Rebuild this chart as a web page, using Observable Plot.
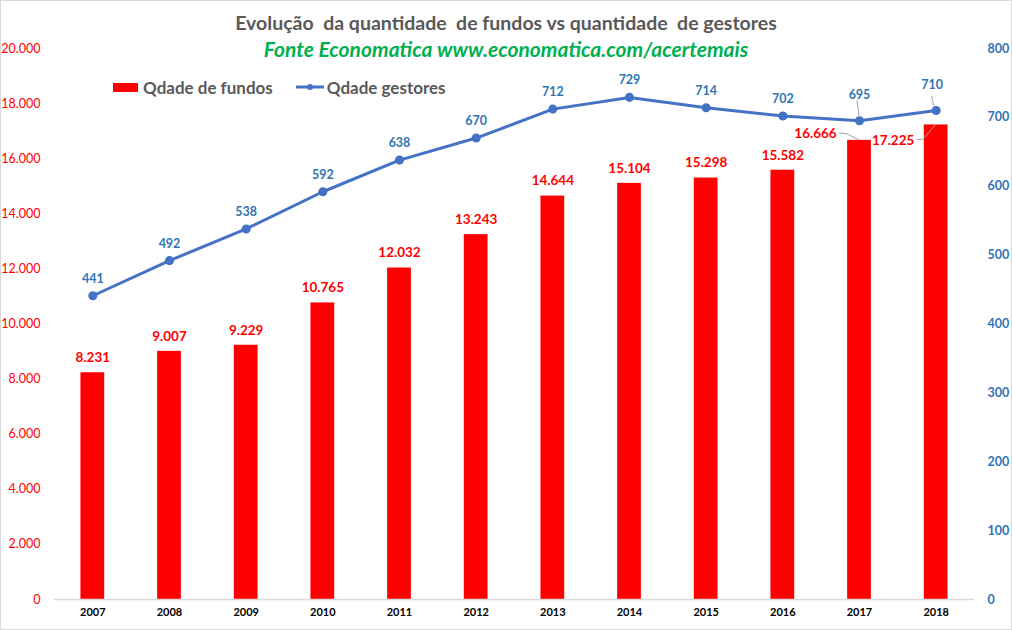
<!DOCTYPE html>
<html><head><meta charset="utf-8">
<script src="https://cdn.jsdelivr.net/npm/d3@7"></script>
<script src="https://cdn.jsdelivr.net/npm/@observablehq/plot@0.6"></script>
<style>
html,body{margin:0;padding:0;background:#fff;}
#wrap{position:relative;width:1012px;height:630px;overflow:hidden;font-family:Lato,"Open Sans",sans-serif;}
#chart{position:absolute;left:0;top:0;}
#frame{position:absolute;left:0;top:0;width:1012px;height:630px;box-sizing:border-box;border:1px solid #d9d9d9;pointer-events:none;}
.ttl{position:absolute;left:0;width:1012px;text-align:center;white-space:pre;}
#title{top:11px;font-size:19.5px;font-weight:700;color:#595959;}
#subtitle{top:36px;font-size:21px;font-weight:700;font-style:italic;color:#00B050;}
#legend{position:absolute;left:113px;top:76px;height:22px;display:flex;align-items:center;font-size:17px;font-weight:700;color:#595959;}
.sw{display:inline-block;}
</style></head><body>
<div id="wrap">
  <div id="chart"></div>
  <div id="title" class="ttl">Evolução  da quantidade  de fundos vs quantidade  de gestores</div>
  <div id="subtitle" class="ttl">Fonte Economatica www.economatica.com/acertemais</div>
  <div id="legend"></div>
  <div id="frame"></div>
</div>
<script>
const years = ["2007","2008","2009","2010","2011","2012","2013","2014","2015","2016","2017","2018"];
const fundos = [8231, 9007, 9229, 10765, 12032, 13243, 14644, 15104, 15298, 15582, 16666, 17225];
const gestores = [441, 492, 538, 592, 638, 670, 712, 729, 714, 702, 695, 710];
const leftTicks = [0, 2000, 4000, 6000, 8000, 10000, 12000, 14000, 16000, 18000, 20000];
const rightTicks = [0, 100, 200, 300, 400, 500, 600, 700, 800];
const seriesNames = ["Qdade de fundos", "Qdade gestores"];

const leftMax = 20000, rightMax = 800;
const ratio = leftMax / rightMax;

const RED = "#FF0000", BLUE = "#4472C4", BLUE_TXT = "#2E75B6";
const fmt = d3.formatLocale({decimal: ",", thousands: ".", grouping: [3], currency: ["", ""]}).format(",d");

const data = years.map((y, i) => ({year: y, fundos: fundos[i], gestores: gestores[i], gy: gestores[i] * ratio}));

const normal = d => d.year !== "2017" && d.year !== "2018";
const only = y => d => d.year === y;

const plot = Plot.plot({
  width: 1012,
  height: 630,
  marginTop: 48,
  marginBottom: 31,
  marginLeft: 54,
  marginRight: 38,
  style: {fontFamily: "Lato, 'Open Sans', sans-serif", background: "transparent", overflow: "visible"},
  x: {type: "band", domain: years, paddingInner: 0.69, paddingOuter: 0.345, align: 0.5, round: false},
  y: {domain: [0, leftMax]},
  marks: [
    Plot.axisY(leftTicks, {anchor: "left", tickSize: 0, tickPadding: 14, tickFormat: fmt, color: RED, fill: RED, fontSize: 12.5}),
    Plot.axisY(rightTicks.map(v => v * ratio), {anchor: "right", tickSize: 0, tickPadding: 13, textAnchor: "start", tickFormat: d => String(Math.round(d / ratio)), color: BLUE_TXT, fill: BLUE_TXT, fontSize: 12.5, fontWeight: "bold"}),
    Plot.axisX({tickSize: 0, tickPadding: 9, fontSize: 11, fontWeight: "bold", color: "#000", fill: "#000", label: null}),
    Plot.barY(data, {x: "year", y: "fundos", fill: RED}),
    Plot.ruleY([0], {stroke: "#d9d9d9", strokeWidth: 1.5}),
    Plot.line(data, {x: "year", y: "gy", stroke: BLUE, strokeWidth: 3}),
    Plot.dot(data, {x: "year", y: "gy", r: 3.8, fill: BLUE, stroke: BLUE}),
    Plot.text(data.filter(normal), {x: "year", y: "fundos", text: d => fmt(d.fundos), dy: -15, lineAnchor: "middle", fill: RED, fontWeight: "bold", fontSize: 13.5}),
    Plot.text(data.filter(only("2017")), {x: "year", y: "fundos", text: d => fmt(d.fundos), dx: -44, dy: -7, lineAnchor: "middle", fill: RED, fontWeight: "bold", fontSize: 13.5}),
    Plot.text(data.filter(only("2018")), {x: "year", y: "fundos", text: d => fmt(d.fundos), dx: -43, dy: 16, lineAnchor: "middle", fill: RED, fontWeight: "bold", fontSize: 13.5}),
    Plot.text(data.filter(normal), {x: "year", y: "gy", text: d => String(d.gestores), dy: -17, lineAnchor: "middle", fill: BLUE_TXT, fontWeight: "bold", fontSize: 12.5}),
    Plot.text(data.filter(only("2017")), {x: "year", y: "gy", text: d => String(d.gestores), dy: -26, lineAnchor: "middle", fill: BLUE_TXT, fontWeight: "bold", fontSize: 12.5}),
    Plot.text(data.filter(only("2018")), {x: "year", y: "gy", text: d => String(d.gestores), dx: -4, dy: -25, lineAnchor: "middle", fill: BLUE_TXT, fontWeight: "bold", fontSize: 12.5})
  ]
});
document.getElementById("chart").appendChild(plot);

// leader lines for the displaced labels, positioned with the plot's own scales
(function () {
  const sx = plot.scale("x"), sy = plot.scale("y");
  const bw = sx.bandwidth || 0;
  const xc = y => sx.apply(y) + bw / 2;
  const get = y => data.find(d => d.year === y);
  const g = d3.select(plot).append("g").attr("stroke", "#a6a6a6").attr("fill", "none").attr("stroke-width", 1);
  let d, x, y;
  d = get("2017"); x = xc(d.year); y = sy.apply(d.fundos);
  g.append("polyline").attr("points", `${x-20},${y-7} ${x-12},${y-6} ${x},${y}`);
  d = get("2018"); x = xc(d.year); y = sy.apply(d.fundos);
  g.append("polyline").attr("points", `${x-19},${y+15} ${x-13},${y+15} ${x},${y}`);
  d = get("2017"); x = xc(d.year); y = sy.apply(d.gy);
  g.append("polyline").attr("points", `${x-2},${y-20} ${x},${y-4}`);
  d = get("2018"); x = xc(d.year); y = sy.apply(d.gy);
  g.append("polyline").attr("points", `${x-4},${y-14} ${x-2},${y-4}`);
})();

// legend
const lg = document.getElementById("legend");
lg.innerHTML =
  `<span class="sw" style="width:25px;height:9px;background:${RED};margin-right:5px"></span><span>${seriesNames[0]}</span>` +
  `<svg width="28" height="10" style="margin-left:23px;margin-right:3px"><line x1="0" y1="5" x2="28" y2="5" stroke="${BLUE}" stroke-width="3"/><circle cx="14" cy="5" r="3" fill="${BLUE}"/></svg><span>${seriesNames[1]}</span>`;
</script>
</body></html>
